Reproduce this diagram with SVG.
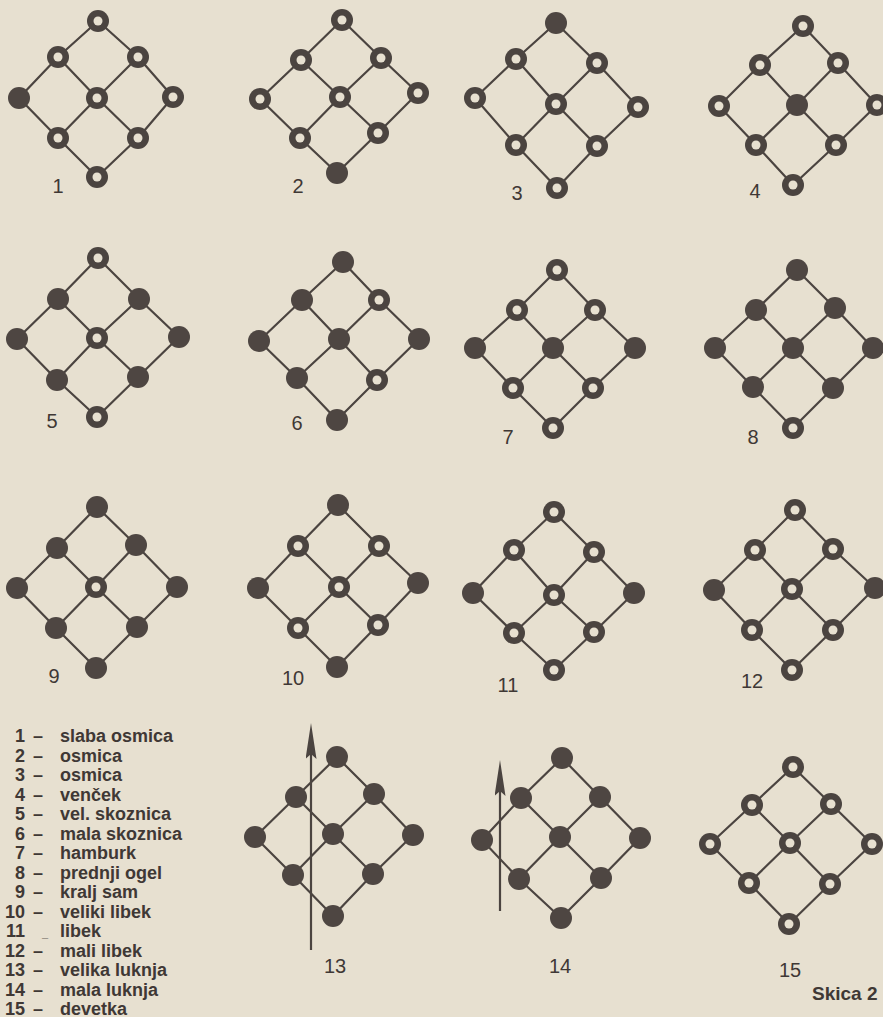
<svg xmlns="http://www.w3.org/2000/svg" xmlns:xlink="http://www.w3.org/1999/xlink" width="883" height="1017" viewBox="0 0 883 1017">
<style>
.bg{fill:#e7e0d0}
.edge{fill:none;stroke:#4b4440;stroke-width:2.2;stroke-linejoin:round}
.arrow{fill:none;stroke:#4b4440;stroke-width:2.2}
.lbl{font-family:"Liberation Sans",Arial,sans-serif;font-size:20px;fill:#3f3835;text-anchor:middle}
.leg{font-family:"Liberation Sans",Arial,sans-serif;font-size:18px;font-weight:bold;fill:#3f3835}
.num{text-anchor:end}
.title{font-family:"Liberation Sans",Arial,sans-serif;font-size:19px;font-weight:bold;fill:#3f3835}
</style>
<defs>
<g id="ring"><circle r="11" fill="#4b4440"/><circle r="4.5" fill="#e7e0d0"/></g>
<circle id="pin" r="11" fill="#4e4642"/>
<marker id="head" viewBox="0 0 36 11" markerWidth="36" markerHeight="11" refX="19" refY="5.5" orient="auto" markerUnits="userSpaceOnUse">
<path d="M0,0 L36,5.5 L0,11 L5,5.5 Z" fill="#4b4440"/>
</marker>
</defs>
<rect class="bg" x="0" y="0" width="883" height="1017"/>
<g id="connectors">
<path class="edge" d="M98,21L58,57L19,98 M138,57L97,98L58,138 M173,97L138,138L97,177 M98,21L138,57L173,97 M58,57L97,98L138,138 M19,98L58,138L97,177"/>
<path class="edge" d="M342,20L301,60L260,99 M381,58L340,97L300,138 M418,93L378,133L337,173 M342,20L381,58L418,93 M301,60L340,97L378,133 M260,99L300,138L337,173"/>
<path class="edge" d="M556,23L516,59L475,98 M597,63L556,104L516,145 M638,107L597,146L557,188 M556,23L597,63L638,107 M516,59L556,104L597,146 M475,98L516,145L557,188"/>
<path class="edge" d="M803,26L760,65L719,106 M838,63L797,105L756,145 M877,105L836,145L793,185 M803,26L838,63L877,105 M760,65L797,105L836,145 M719,106L756,145L793,185"/>
<path class="edge" d="M98,258L58,299L17,339 M139,299L97,338L57,380 M179,337L138,377L97,417 M98,258L139,299L179,337 M58,299L97,338L138,377 M17,339L57,380L97,417"/>
<path class="edge" d="M343,262L302,300L259,341 M379,300L339,339L297,378 M419,339L377,380L337,420 M343,262L379,300L419,339 M302,300L339,339L377,380 M259,341L297,378L337,420"/>
<path class="edge" d="M557,270L517,310L475,348 M595,310L553,348L513,388 M635,348L593,388L553,428 M557,270L595,310L635,348 M517,310L553,348L593,388 M475,348L513,388L553,428"/>
<path class="edge" d="M797,270L756,310L715,348 M835,308L793,348L753,387 M873,348L833,388L793,428 M797,270L835,308L873,348 M756,310L793,348L833,388 M715,348L753,387L793,428"/>
<path class="edge" d="M97,507L57,548L17,588 M136,545L96,587L56,628 M177,587L137,627L96,668 M97,507L136,545L177,587 M57,548L96,587L137,627 M17,588L56,628L96,668"/>
<path class="edge" d="M338,505L298,546L258,588 M379,546L339,587L298,628 M418,583L378,625L337,667 M338,505L379,546L418,583 M298,546L339,587L378,625 M258,588L298,628L337,667"/>
<path class="edge" d="M554,512L514,550L473,593 M594,552L554,595L514,633 M634,593L594,632L554,670 M554,512L594,552L634,593 M514,550L554,595L594,632 M473,593L514,633L554,670"/>
<path class="edge" d="M795,510L755,550L714,590 M833,549L792,589L752,630 M875,588L833,630L792,670 M795,510L833,549L875,588 M755,550L792,589L833,630 M714,590L752,630L792,670"/>
<path class="edge" d="M337,757L296,797L255,837 M374,794L333,834L293,875 M413,835L373,874L333,916 M337,757L374,794L413,835 M296,797L333,834L373,874 M255,837L293,875L333,916"/>
<path class="edge" d="M562,758L521,798L482,840 M600,797L560,837L519,879 M640,838L601,878L561,918 M562,758L600,797L640,838 M521,798L560,837L601,878 M482,840L519,879L561,918"/>
<path class="edge" d="M793,767L752,805L710,844 M831,804L790,843L749,883 M872,844L830,884L789,924 M793,767L831,804L872,844 M752,805L790,843L830,884 M710,844L749,883L789,924"/>
<line class="arrow" x1="311" y1="950" x2="311" y2="740" marker-end="url(#head)"/>
<line class="arrow" x1="500" y1="911" x2="500" y2="777" marker-end="url(#head)"/>
</g>
<g id="fig1">
<use href="#ring" x="98" y="21"/><use href="#ring" x="58" y="57"/><use href="#ring" x="138" y="57"/>
<use href="#pin" x="19" y="98"/><use href="#ring" x="97" y="98"/><use href="#ring" x="173" y="97"/>
<use href="#ring" x="58" y="138"/><use href="#ring" x="138" y="138"/><use href="#ring" x="97" y="177"/>
<text class="lbl" x="58" y="193">1</text>
</g>
<g id="fig2">
<use href="#ring" x="342" y="20"/><use href="#ring" x="301" y="60"/><use href="#ring" x="381" y="58"/>
<use href="#ring" x="260" y="99"/><use href="#ring" x="340" y="97"/><use href="#ring" x="418" y="93"/>
<use href="#ring" x="300" y="138"/><use href="#ring" x="378" y="133"/><use href="#pin" x="337" y="173"/>
<text class="lbl" x="298" y="193">2</text>
</g>
<g id="fig3">
<use href="#pin" x="556" y="23"/><use href="#ring" x="516" y="59"/><use href="#ring" x="597" y="63"/>
<use href="#ring" x="475" y="98"/><use href="#ring" x="556" y="104"/><use href="#ring" x="638" y="107"/>
<use href="#ring" x="516" y="145"/><use href="#ring" x="597" y="146"/><use href="#ring" x="557" y="188"/>
<text class="lbl" x="517" y="200">3</text>
</g>
<g id="fig4">
<use href="#ring" x="803" y="26"/><use href="#ring" x="760" y="65"/><use href="#ring" x="838" y="63"/>
<use href="#ring" x="719" y="106"/><use href="#pin" x="797" y="105"/><use href="#ring" x="877" y="105"/>
<use href="#ring" x="756" y="145"/><use href="#ring" x="836" y="145"/><use href="#ring" x="793" y="185"/>
<text class="lbl" x="755" y="198">4</text>
</g>
<g id="fig5">
<use href="#ring" x="98" y="258"/><use href="#pin" x="58" y="299"/><use href="#pin" x="139" y="299"/>
<use href="#pin" x="17" y="339"/><use href="#ring" x="97" y="338"/><use href="#pin" x="179" y="337"/>
<use href="#pin" x="57" y="380"/><use href="#pin" x="138" y="377"/><use href="#ring" x="97" y="417"/>
<text class="lbl" x="52" y="428">5</text>
</g>
<g id="fig6">
<use href="#pin" x="343" y="262"/><use href="#pin" x="302" y="300"/><use href="#ring" x="379" y="300"/>
<use href="#pin" x="259" y="341"/><use href="#pin" x="339" y="339"/><use href="#pin" x="419" y="339"/>
<use href="#pin" x="297" y="378"/><use href="#ring" x="377" y="380"/><use href="#pin" x="337" y="420"/>
<text class="lbl" x="297" y="430">6</text>
</g>
<g id="fig7">
<use href="#ring" x="557" y="270"/><use href="#ring" x="517" y="310"/><use href="#ring" x="595" y="310"/>
<use href="#pin" x="475" y="348"/><use href="#pin" x="553" y="348"/><use href="#pin" x="635" y="348"/>
<use href="#ring" x="513" y="388"/><use href="#ring" x="593" y="388"/><use href="#ring" x="553" y="428"/>
<text class="lbl" x="508" y="444">7</text>
</g>
<g id="fig8">
<use href="#pin" x="797" y="270"/><use href="#pin" x="756" y="310"/><use href="#pin" x="835" y="308"/>
<use href="#pin" x="715" y="348"/><use href="#pin" x="793" y="348"/><use href="#pin" x="873" y="348"/>
<use href="#pin" x="753" y="387"/><use href="#pin" x="833" y="388"/><use href="#ring" x="793" y="428"/>
<text class="lbl" x="753" y="444">8</text>
</g>
<g id="fig9">
<use href="#pin" x="97" y="507"/><use href="#pin" x="57" y="548"/><use href="#pin" x="136" y="545"/>
<use href="#pin" x="17" y="588"/><use href="#ring" x="96" y="587"/><use href="#pin" x="177" y="587"/>
<use href="#pin" x="56" y="628"/><use href="#pin" x="137" y="627"/><use href="#pin" x="96" y="668"/>
<text class="lbl" x="54" y="683">9</text>
</g>
<g id="fig10">
<use href="#pin" x="338" y="505"/><use href="#ring" x="298" y="546"/><use href="#ring" x="379" y="546"/>
<use href="#pin" x="258" y="588"/><use href="#ring" x="339" y="587"/><use href="#pin" x="418" y="583"/>
<use href="#ring" x="298" y="628"/><use href="#ring" x="378" y="625"/><use href="#pin" x="337" y="667"/>
<text class="lbl" x="293" y="685">10</text>
</g>
<g id="fig11">
<use href="#ring" x="554" y="512"/><use href="#ring" x="514" y="550"/><use href="#ring" x="594" y="552"/>
<use href="#pin" x="473" y="593"/><use href="#ring" x="554" y="595"/><use href="#pin" x="634" y="593"/>
<use href="#ring" x="514" y="633"/><use href="#ring" x="594" y="632"/><use href="#ring" x="554" y="670"/>
<text class="lbl" x="508" y="692">11</text>
</g>
<g id="fig12">
<use href="#ring" x="795" y="510"/><use href="#ring" x="755" y="550"/><use href="#ring" x="833" y="549"/>
<use href="#pin" x="714" y="590"/><use href="#ring" x="792" y="589"/><use href="#pin" x="875" y="588"/>
<use href="#ring" x="752" y="630"/><use href="#ring" x="833" y="630"/><use href="#ring" x="792" y="670"/>
<text class="lbl" x="752" y="688">12</text>
</g>
<g id="fig13">
<use href="#pin" x="337" y="757"/><use href="#pin" x="296" y="797"/><use href="#pin" x="374" y="794"/>
<use href="#pin" x="255" y="837"/><use href="#pin" x="333" y="834"/><use href="#pin" x="413" y="835"/>
<use href="#pin" x="293" y="875"/><use href="#pin" x="373" y="874"/><use href="#pin" x="333" y="916"/>
<text class="lbl" x="335" y="973">13</text>
</g>
<g id="fig14">
<use href="#pin" x="562" y="758"/><use href="#pin" x="521" y="798"/><use href="#pin" x="600" y="797"/>
<use href="#pin" x="482" y="840"/><use href="#pin" x="560" y="837"/><use href="#pin" x="640" y="838"/>
<use href="#pin" x="519" y="879"/><use href="#pin" x="601" y="878"/><use href="#pin" x="561" y="918"/>
<text class="lbl" x="560" y="973">14</text>
</g>
<g id="fig15">
<use href="#ring" x="793" y="767"/><use href="#ring" x="752" y="805"/><use href="#ring" x="831" y="804"/>
<use href="#ring" x="710" y="844"/><use href="#ring" x="790" y="843"/><use href="#ring" x="872" y="844"/>
<use href="#ring" x="749" y="883"/><use href="#ring" x="830" y="884"/><use href="#ring" x="789" y="924"/>
<text class="lbl" x="790" y="977">15</text>
</g>
<g id="legend" class="leg">
<text class="num" x="25" y="742">1</text><text x="33" y="742">–</text><text x="60" y="742">slaba osmica</text>
<text class="num" x="25" y="761.5">2</text><text x="33" y="761.5">–</text><text x="60" y="761.5">osmica</text>
<text class="num" x="25" y="781">3</text><text x="33" y="781">–</text><text x="60" y="781">osmica</text>
<text class="num" x="25" y="800.5">4</text><text x="33" y="800.5">–</text><text x="60" y="800.5">venček</text>
<text class="num" x="25" y="820">5</text><text x="33" y="820">–</text><text x="60" y="820">vel. skoznica</text>
<text class="num" x="25" y="839.5">6</text><text x="33" y="839.5">–</text><text x="60" y="839.5">mala skoznica</text>
<text class="num" x="25" y="859">7</text><text x="33" y="859">–</text><text x="60" y="859">hamburk</text>
<text class="num" x="25" y="878.5">8</text><text x="33" y="878.5">–</text><text x="60" y="878.5">prednji ogel</text>
<text class="num" x="25" y="898">9</text><text x="33" y="898">–</text><text x="60" y="898">kralj sam</text>
<text class="num" x="25" y="917.5">10</text><text x="33" y="917.5">–</text><text x="60" y="917.5">veliki libek</text>
<text class="num" x="25" y="937">11</text><text x="42" y="937" style="font-size:11px">_</text><text x="60" y="937">libek</text>
<text class="num" x="25" y="956.5">12</text><text x="33" y="956.5">–</text><text x="60" y="956.5">mali libek</text>
<text class="num" x="25" y="976">13</text><text x="33" y="976">–</text><text x="60" y="976">velika luknja</text>
<text class="num" x="25" y="995.5">14</text><text x="33" y="995.5">–</text><text x="60" y="995.5">mala luknja</text>
<text class="num" x="25" y="1015">15</text><text x="33" y="1015">–</text><text x="60" y="1015">devetka</text>
</g>
<text id="caption" class="title" x="812" y="1000">Skica 2</text>
</svg>
